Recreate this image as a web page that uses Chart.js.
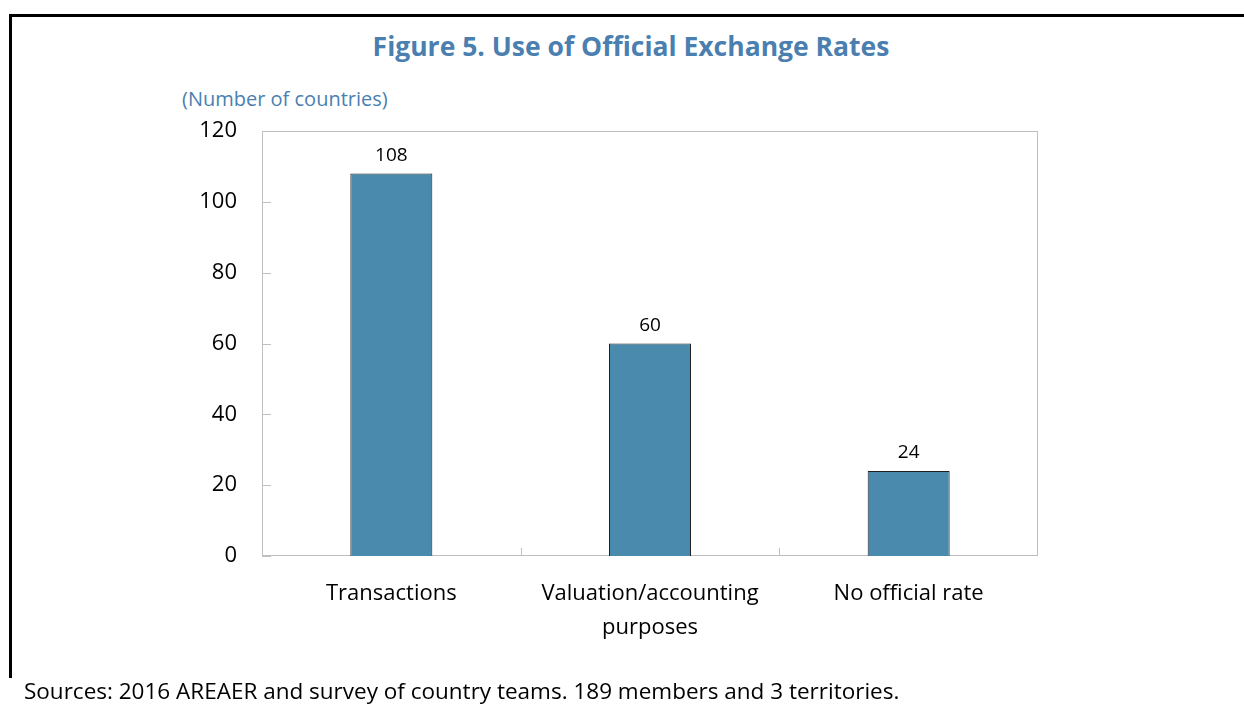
<!DOCTYPE html>
<html>
<head>
<meta charset="utf-8">
<script src="https://cdn.jsdelivr.net/npm/chart.js@4.4.1/dist/chart.umd.min.js"></script>
<style>
  body { margin: 0; background: #fff; font-family: "Open Sans", sans-serif; }
  #wrap { position: relative; width: 1244px; height: 705px; overflow: hidden; }
  #frame { position: absolute; left: 9px; top: 14px; right: -5px; height: 661px;
           border-left: 3px solid #000; border-top: 3px solid #000; }
  .txt { position: absolute; white-space: nowrap; line-height: 1; }
  #title { left: 631px; top: 33px; transform: translateX(-50%); font-size: 26.5px; font-weight: bold; color: #4a7fb0; }
  #unit { left: 182px; top: 89px; font-size: 20px; color: #4a7fb0; }
  #source { left: 24px; top: 680px; font-size: 22.5px; color: #000; }
  canvas { position: absolute; left: 0; top: 0; }
</style>
</head>
<body>
<div id="wrap">
  <div id="frame"></div>
  <div class="txt" id="title">Figure 5. Use of Official Exchange Rates</div>
  <div class="txt" id="unit">(Number of countries)</div>
  <canvas id="grafico" width="1244" height="705"></canvas>
  <div class="txt" id="source">Sources: 2016 AREAER and survey of country teams. 189 members and 3 territories.</div>
</div>
<script>
const categorias = [['Transactions'], ['Valuation/accounting', 'purposes'], ['No official rate']];
const paises = [108, 60, 24];
const yTicks = [0, 20, 40, 60, 80, 100, 120];

const eixoCinza = '#bfbfbf';

// moldura do gráfico + ticks para dentro
const molduraPlugin = {
    id: 'moldura',
    beforeDatasetsDraw(chart) {
        const { ctx, chartArea: a, scales: { x, y } } = chart;
        ctx.save();
        ctx.strokeStyle = eixoCinza;
        ctx.lineWidth = 1;
        ctx.strokeRect(a.left + 0.5, a.top + 0.5, a.right - a.left - 1, a.bottom - a.top - 1);
        ctx.beginPath();
        yTicks.forEach(v => {
            const py = Math.round(y.getPixelForValue(v)) + 0.5;
            ctx.moveTo(a.left, py);
            ctx.lineTo(a.left + 9, py);
        });
        for (let i = 0; i < categorias.length - 1; i++) {
            const px = Math.round((x.getPixelForTick(i) + x.getPixelForTick(i + 1)) / 2) + 0.5;
            ctx.moveTo(px, a.bottom);
            ctx.lineTo(px, a.bottom - 8);
        }
        ctx.stroke();
        ctx.restore();
    }
};

// rótulos de valor acima das barras
const rotulosPlugin = {
    id: 'rotulos',
    afterDatasetsDraw(chart) {
        const { ctx } = chart;
        const meta = chart.getDatasetMeta(0);
        ctx.save();
        ctx.font = '19px "Open Sans"';
        ctx.fillStyle = '#000';
        ctx.textAlign = 'center';
        ctx.textBaseline = 'middle';
        meta.data.forEach((bar, i) => {
            ctx.fillText(String(paises[i]), bar.x, bar.y - 18);
        });
        ctx.restore();
    }
};

new Chart(document.getElementById('grafico').getContext('2d'), {
    type: 'bar',
    data: {
        labels: categorias,
        datasets: [{
            data: paises,
            backgroundColor: '#4a8aad',
            borderColor: '#1f1f1f',
            borderWidth: 1,
            barPercentage: 0.317,
            categoryPercentage: 1
        }]
    },
    options: {
        responsive: false,
        animation: false,
        layout: { padding: { left: 0, top: 131, right: 206, bottom: 0 } },
        plugins: { legend: { display: false }, tooltip: { enabled: false } },
        scales: {
            x: {
                afterFit: s => { s.height = 149; },
                grid: { display: false, drawTicks: false },
                border: { display: false },
                ticks: { color: '#000', padding: 21, font: { family: 'Open Sans', size: 22, lineHeight: 1.55 }, maxRotation: 0 }
            },
            y: {
                min: 0, max: 120,
                afterFit: s => { s.width = 262; },
                afterBuildTicks: s => { s.ticks = yTicks.map(v => ({ value: v })); },
                grid: { display: false, drawTicks: false },
                border: { display: false },
                ticks: { color: '#000', padding: 25, font: { family: 'Open Sans', size: 22 } }
            }
        }
    },
    plugins: [molduraPlugin, rotulosPlugin]
});
</script>
</body>
</html>
